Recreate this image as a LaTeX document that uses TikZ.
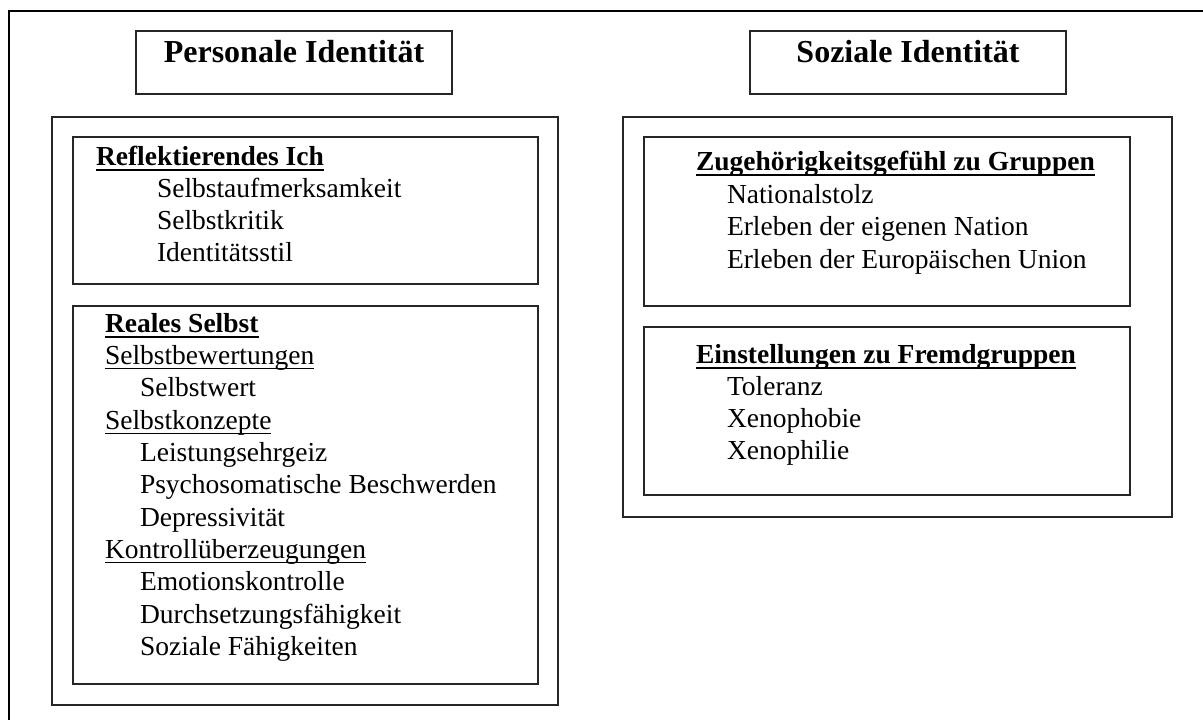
\documentclass[tikz,border=0pt]{standalone}
\usepackage{fontspec}
\setmainfont{Liberation Serif}
\newcommand\bodyfs{\fontsize{27.5pt}{33pt}\selectfont}
\newcommand\titlefs{\fontsize{32pt}{38pt}\selectfont\bfseries}
\tikzset{
  box/.style={draw=black!85, line width=1.5pt, inner sep=0pt, outer sep=0pt},
  frameline/.style={draw=black, line width=2pt},
  txt/.style={anchor=base west, inner sep=0pt, outer sep=0pt, font=\bodyfs},
  head/.style={txt, font=\bodyfs\bfseries},
  ttl/.style={anchor=base, inner sep=0pt, outer sep=0pt, font=\titlefs},
  ulthick/.style={line width=2pt},
  ulthin/.style={line width=1pt}
}
\begin{document}
\begin{tikzpicture}[x=1pt,y=-1pt]
\useasboundingbox (0,0) rectangle (1203,720);
% outer frame (cut by the page on the right and bottom)
\draw[frameline] (9,720) -- (9,11) -- (1203,11);

% ---------- left column ----------
\node[box, minimum width=316pt, minimum height=63pt] (ptitlebox) at (294,62.5) {};
\node[ttl] (ptitle) at (294,62) {Personale Identität};

\node[box, minimum width=506pt, minimum height=588pt] (lout) at (305,411) {};
\node[box, minimum width=465pt, minimum height=147pt] (refl) at (305.5,210.5) {};
\node[box, minimum width=465pt, minimum height=378pt] (reales) at (305.5,495) {};

\node[head] (rh) at (96,165) {Reflektierendes Ich};
\draw[ulthick] ([yshift=-4.5pt]rh.base west) -- ([yshift=-4.5pt]rh.base east);
\node[txt] (r1) at (157,197) {Selbstaufmerksamkeit};
\node[txt] (r2) at (157,229) {Selbstkritik};
\node[txt] (r3) at (157,261) {Identitätsstil};

\node[head] (sh) at (105,332) {Reales Selbst};
\draw[ulthick] ([yshift=-4.5pt]sh.base west) -- ([yshift=-4.5pt]sh.base east);
\node[txt] (s1) at (105,364) {Selbstbewertungen};
\draw[ulthin] ([yshift=-4pt]s1.base west) -- ([yshift=-4pt]s1.base east);
\node[txt] (s2) at (140,396) {Selbstwert};
\node[txt] (s3) at (105,429) {Selbstkonzepte};
\draw[ulthin] ([yshift=-4pt]s3.base west) -- ([yshift=-4pt]s3.base east);
\node[txt] (s4) at (140,461) {Leistungsehrgeiz};
\node[txt] (s5) at (140,493) {Psychosomatische Beschwerden};
\node[txt] (s6) at (140,526) {Depressivität};
\node[txt] (s7) at (105,558) {Kontrollüberzeugungen};
\draw[ulthin] ([yshift=-4pt]s7.base west) -- ([yshift=-4pt]s7.base east);
\node[txt] (s8) at (140,590) {Emotionskontrolle};
\node[txt] (s9) at (140,623) {Durchsetzungsfähigkeit};
\node[txt] (s10) at (140,655) {Soziale Fähigkeiten};

% ---------- right column ----------
\node[box, minimum width=316pt, minimum height=63pt] (stitlebox) at (908,62.5) {};
\node[ttl] (stitle) at (908,62) {Soziale Identität};

\node[box, minimum width=549pt, minimum height=400pt] (rout) at (897.5,317) {};
\node[box, minimum width=486pt, minimum height=169pt] (zug) at (887,221.5) {};
\node[box, minimum width=486pt, minimum height=168pt] (einst) at (887,411) {};

\node[head] (zh) at (696,170) {Zugehörigkeitsgefühl zu Gruppen};
\draw[ulthick] ([yshift=-4.5pt]zh.base west) -- ([yshift=-4.5pt]zh.base east);
\node[txt] (z1) at (727,203) {Nationalstolz};
\node[txt] (z2) at (727,235) {Erleben der eigenen Nation};
\node[txt] (z3) at (727,268) {Erleben der Europäischen Union};

\node[head] (eh) at (696,363) {Einstellungen zu Fremdgruppen};
\draw[ulthick] ([yshift=-4.5pt]eh.base west) -- ([yshift=-4.5pt]eh.base east);
\node[txt] (e1) at (727,395) {Toleranz};
\node[txt] (e2) at (727,427) {Xenophobie};
\node[txt] (e3) at (727,459) {Xenophilie};
\end{tikzpicture}
\end{document}
